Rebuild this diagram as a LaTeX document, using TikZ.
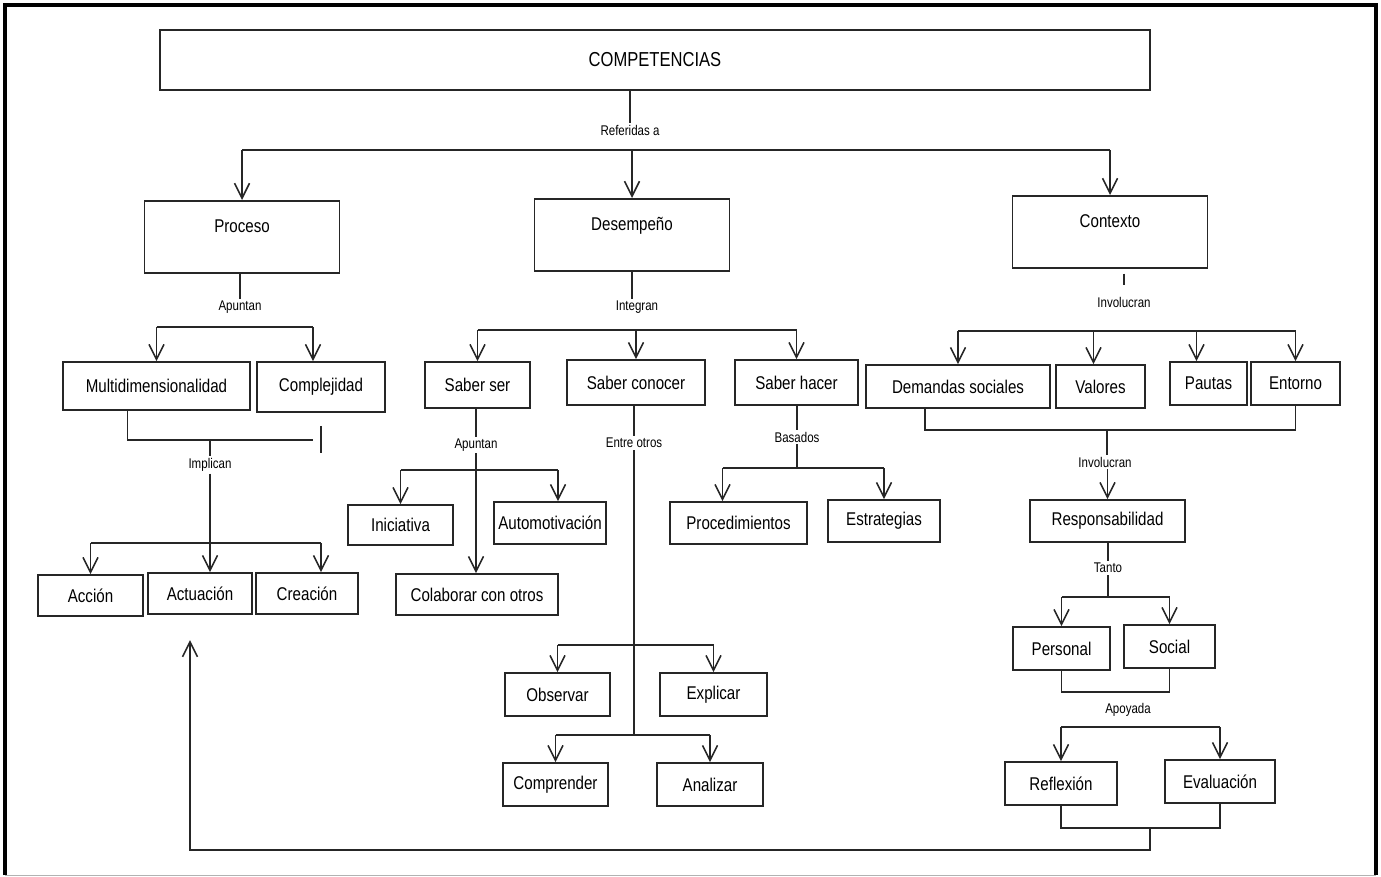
\documentclass[tikz,border=0pt]{standalone}
\usepackage{fontspec}
\setmainfont{Liberation Sans}[FakeStretch=0.82]
\usetikzlibrary{arrows.meta,calc}

\tikzset{
	box/.style={draw=black!85, line width=1pt, inner sep=0pt, font=\fontsize{10.5}{12}\selectfont},
	bigbox/.style={box, anchor=north, minimum width=3.9cm, text height=0.64cm, text depth=0.8cm},
	lbl/.style={inner sep=1pt, font=\fontsize{8}{9}\selectfont},
	link/.style={draw=black!85, line width=0.9pt},
	arr/.style={link, -{Straight Barb[length=3mm,width=3mm]}}
}

\begin{document}
\begin{tikzpicture}[x=0.02cm, y=-0.02cm]
		\useasboundingbox (0,0) rectangle (1381,876);
		\draw[line width=2pt] (5,875) -- (5,5) -- (1376,5) -- (1376,875);
		\draw[black!30] (5,875) -- (1376,875);

		\node[box, minimum width=19.8cm, minimum height=1.2cm, font=\fontsize{11.5}{13}\selectfont] (comp) at (655,60) {COMPETENCIAS};
		\node[bigbox] (proceso) at (242,200) {Proceso};
		\node[bigbox] (desempeno) at (632,198) {Desempeño};
		\node[bigbox] (contexto) at (1110,195) {Contexto};

		\node[lbl] (ref) at (630,130) {Referidas a};
		\node[lbl] (apu1) at (240,307) {Apuntan};
		\node[lbl] (integ) at (637,307) {Integran};
		\node[lbl] (invol1) at (1124,302) {Involucran};
		\node[lbl] (impl) at (210,465) {Implican};
		\node[lbl] (apu2) at (476,445) {Apuntan};
		\node[lbl] (entre) at (634,443) {Entre otros};
		\node[lbl] (basad) at (797,437) {Basados};
		\node[lbl] (invol2) at (1105,462) {Involucran};
		\node[lbl] (tanto) at (1108,568) {Tanto};
		\node[lbl] (apoy) at (1128,710) {Apoyada};

		\node[box, minimum width=3.74cm, minimum height=0.96cm] (multi) at (156.5,386) {Multidimensionalidad};
		\node[box, minimum width=2.56cm, minimum height=1cm] (compl) at (321,387) {Complejidad};
		\node[box, minimum width=2.1cm, minimum height=0.82cm] (accion) at (90.5,595.5) {Acción};
		\node[box, minimum width=2.08cm, minimum height=0.82cm] (actua) at (200,593.5) {Actuación};
		\node[box, minimum width=2.04cm, minimum height=0.82cm] (creac) at (307,593.5) {Creación};

		\node[box, minimum width=2.1cm, minimum height=0.92cm] (sser) at (477.5,385) {Saber ser};
		\node[box, minimum width=2.76cm, minimum height=0.9cm] (sconoc) at (636,382.5) {Saber conocer};
		\node[box, minimum width=2.46cm, minimum height=0.9cm] (shacer) at (796.5,382.5) {Saber hacer};
		\node[box, minimum width=2.1cm, minimum height=0.8cm] (inic) at (400.5,525) {Iniciativa};
		\node[box, minimum width=2.24cm, minimum height=0.84cm] (automo) at (550,523) {Automotivación};
		\node[box, minimum width=3.24cm, minimum height=0.82cm] (colab) at (477,594.5) {Colaborar con otros};
		\node[box, minimum width=2.1cm, minimum height=0.86cm] (observ) at (557.5,694.5) {Observar};
		\node[box, minimum width=2.14cm, minimum height=0.86cm] (explic) at (713.5,694.5) {Explicar};
		\node[box, minimum width=2.1cm, minimum height=0.86cm] (compr) at (555.5,784.5) {Comprender};
		\node[box, minimum width=2.12cm, minimum height=0.86cm] (analiz) at (710,784.5) {Analizar};
		\node[box, minimum width=2.74cm, minimum height=0.84cm] (proced) at (738.5,523) {Procedimientos};
		\node[box, minimum width=2.24cm, minimum height=0.84cm] (estrat) at (884,521) {Estrategias};

		\node[box, minimum width=3.68cm, minimum height=0.86cm] (demand) at (958,386.5) {Demandas sociales};
		\node[box, minimum width=1.78cm, minimum height=0.86cm] (valor) at (1100.5,386.5) {Valores};
		\node[box, minimum width=1.54cm, minimum height=0.86cm] (pautas) at (1208.5,383.5) {Pautas};
		\node[box, minimum width=1.78cm, minimum height=0.86cm] (entorno) at (1295.5,383.5) {Entorno};
		\node[box, minimum width=3.1cm, minimum height=0.84cm] (respon) at (1107.5,521) {Responsabilidad};
		\node[box, minimum width=1.94cm, minimum height=0.86cm] (person) at (1061.5,648.5) {Personal};
		\node[box, minimum width=1.82cm, minimum height=0.86cm] (social) at (1169.5,646.5) {Social};
		\node[box, minimum width=2.24cm, minimum height=0.86cm] (reflex) at (1061,783.5) {Reflexión};
		\node[box, minimum width=2.2cm, minimum height=0.86cm] (evalua) at (1220,781.5) {Evaluación};

		\coordinate (refbar) at (630,150);
		\coordinate (apubar) at (240,327);
		\coordinate (mjoin) at (313,440);
		\coordinate (implbar) at (210,543);
		\coordinate (intbar) at (634,330);
		\coordinate (sserbar) at (476,470);
		\coordinate (obsbar) at (634,645);
		\coordinate (combar) at (634,735);
		\coordinate (basbar) at (797,468);
		\coordinate (ctxbar) at (1124,331);
		\coordinate (djoin) at (1107,430);
		\coordinate (tantobar) at (1108,597);
		\coordinate (pjoin) at (1128,692);
		\coordinate (apbar) at (1128,727);
		\coordinate (rejoin) at (1150,828);
		\coordinate (fbtip) at (190,640);

		\draw[link] (comp.south -| ref) -- (ref.north);
		\draw[link] (refbar -| proceso) -- (refbar -| contexto);
		\draw[arr] (refbar -| proceso) -- (proceso.north);
		\draw[arr] (refbar -| desempeno) -- (desempeno.north);
		\draw[arr] (refbar -| contexto) -- (contexto.north);

		\draw[link] (proceso.south -| apu1) -- (apu1.north);
		\draw[link] (apubar -| multi) -- ($(apubar -| compl)+(-8,0)$);
		\draw[arr] (apubar -| multi) -- (multi.north);
		\draw[arr] ($(apubar -| compl)+(-8,0)$) -- ($(compl.north)+(-8,0)$);
		\draw[link] ($(multi.south)+(-29,0)$) |- (mjoin);
		\draw[link] (compl.south) ++(0,13) -- ++(0,27);
		\draw[link] (mjoin -| impl) -- (impl.north);
		\draw[arr] (impl.south) -- (impl.south |- actua.north);
		\draw[link] (implbar -| accion) -- ($(implbar -| creac)+(14,0)$);
		\draw[arr] (implbar -| accion) -- (accion.north);
		\draw[arr] ($(implbar -| creac)+(14,0)$) -- ($(creac.north)+(14,0)$);

		\draw[link] (desempeno.south) -- (desempeno.south |- integ.north);
		\draw[link] (intbar -| sser) -- (intbar -| shacer);
		\draw[arr] (intbar -| sser) -- (sser.north);
		\draw[arr] (intbar -| sconoc) -- (sconoc.north);
		\draw[arr] (intbar -| shacer) -- (shacer.north);
		\draw[link] (sser.south -| apu2) -- (apu2.north);
		\draw[link] (sserbar -| inic) -- ($(sserbar -| automo)+(8,0)$);
		\draw[arr] (sserbar -| inic) -- (inic.north);
		\draw[arr] ($(sserbar -| automo)+(8,0)$) -- ($(automo.north)+(8,0)$);
		\draw[arr] (apu2.south) -- (apu2.south |- colab.north);
		\draw[link] (sconoc.south -| entre) -- (entre.north);
		\draw[link] (entre.south) -- (combar);
		\draw[link] (obsbar -| observ) -- (obsbar -| explic);
		\draw[arr] (obsbar -| observ) -- (observ.north);
		\draw[arr] (obsbar -| explic) -- (explic.north);
		\draw[link] (combar -| compr) -- (combar -| analiz);
		\draw[arr] (combar -| compr) -- (compr.north);
		\draw[arr] (combar -| analiz) -- (analiz.north);
		\draw[link] (shacer.south -| basad) -- (basad.north);
		\draw[link] (basad.south) -- (basbar);
		\draw[link] ($(basbar -| proced)+(-16,0)$) -- (basbar -| estrat);
		\draw[arr] ($(basbar -| proced)+(-16,0)$) -- ($(proced.north)+(-16,0)$);
		\draw[arr] (basbar -| estrat) -- (estrat.north);

		\draw[link] (contexto.south -| invol1) ++(0,5) -- ++(0,11);
		\draw[link] (ctxbar -| demand) -- (ctxbar -| entorno);
		\draw[arr] (ctxbar -| demand) -- (demand.north);
		\draw[arr] ($(ctxbar -| valor)+(-7,0)$) -- ($(valor.north)+(-7,0)$);
		\draw[arr] ($(ctxbar -| pautas)+(-12,0)$) -- ($(pautas.north)+(-12,0)$);
		\draw[arr] (ctxbar -| entorno) -- (entorno.north);
		\draw[link] ($(demand.south)+(-33,0)$) |- (djoin -| entorno) -- (entorno.south);
		\draw[link] (djoin) -- (djoin |- invol2.north);
		\draw[arr] (respon.north |- invol2.south) -- (respon.north);
		\draw[link] (respon.south -| tanto) -- (tanto.north);
		\draw[link] (tanto.south) -- (tantobar);
		\draw[link] (tantobar -| person) -- (tantobar -| social);
		\draw[arr] (tantobar -| person) -- (person.north);
		\draw[arr] (tantobar -| social) -- (social.north);
		\draw[link] (person.south) |- (pjoin -| social) -- (social.south);
		\draw[link] (apbar -| reflex) -- (apbar -| evalua);
		\draw[arr] (apbar -| reflex) -- (reflex.north);
		\draw[arr] (apbar -| evalua) -- (evalua.north);
		\draw[link] (reflex.south) |- (rejoin -| evalua) -- (evalua.south);
		\draw[arr] (rejoin) -- ++(0,22) -| (fbtip);
	\end{tikzpicture}
\end{document}
